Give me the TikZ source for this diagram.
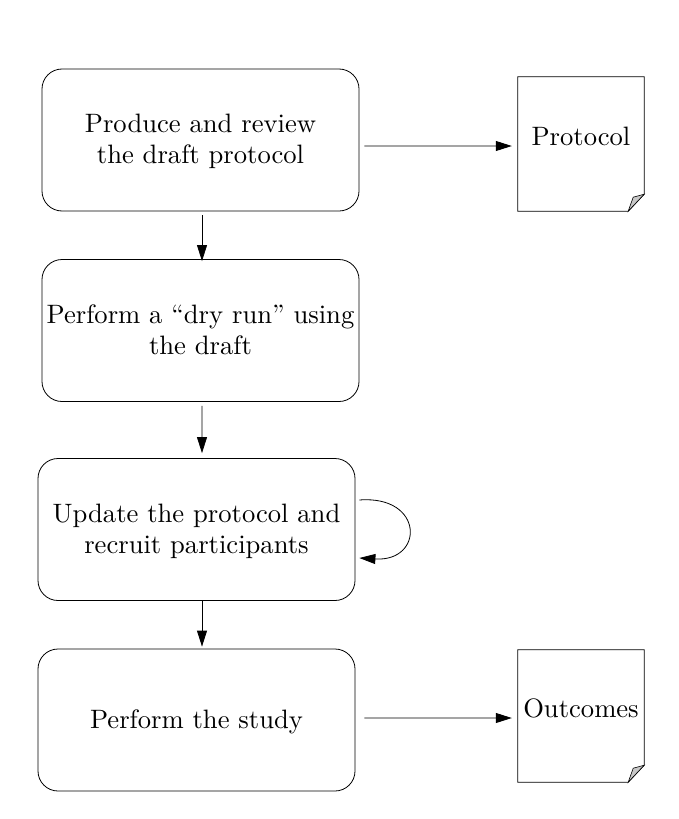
\documentclass[tikz,border=0pt]{standalone}
\usepackage{graphicx}
\usetikzlibrary{arrows.meta,calc}
\newcommand{\bigtext}[1]{\vbox{\kern4bp\hbox{\scalebox{2.671}{\fontsize{10}{11.6}\selectfont\begin{tabular}{@{}c@{}}#1\end{tabular}}}}}
\begin{document}
\begin{tikzpicture}[x=1bp,y=-1bp,
  stepbox/.style={draw,rounded corners=20bp,minimum width=317bp,minimum height=142bp,align=center,line width=0.8bp,inner sep=0pt},
  docbox/.style={minimum width=126bp,inner sep=0pt},
  flow/.style={-{Triangle[length=16bp,width=10bp]},line width=0.8bp},
  foldfill/.style={fill=black!22,draw,line width=0.6bp}]
\useasboundingbox (0,0) rectangle (679,819);
\node[stepbox] (b1) at (200.5,140) {\bigtext{Produce and review\\the draft protocol}};
\node[stepbox] (b2) at (200.5,330.5) {\bigtext{Perform a ``dry run'' using\\the draft}};
\node[stepbox] (b3) at (196.5,529.5) {\bigtext{Update the protocol and\\recruit participants}};
\node[stepbox] (b4) at (196.5,720) {\bigtext{Perform the study}};
\node[docbox,minimum height=134bp,label={[yshift=7bp]center:\bigtext{Protocol}}] (d1) at (581,144) {};
\node[docbox,minimum height=132bp,label={[yshift=7bp]center:\bigtext{Outcomes}}] (d2) at (581,716) {};
\foreach \d in {d1,d2}{
  \draw[line width=0.8bp] (\d.north west) -- (\d.north east) -- ($(\d.south east)+(0,-17)$) -- ($(\d.south east)+(-16,0)$) -- (\d.south west) -- cycle;
  \draw[foldfill] ($(\d.south east)+(-16,0)$) -- ($(\d.south east)+(-11,-14)$) -- ($(\d.south east)+(0,-17)$) -- cycle;
}
\draw[flow] ([xshift=5bp,yshift=-6bp]b1.east) -- ([xshift=-6bp,yshift=-2bp]d1.west);
\draw[flow] ([xshift=1.5bp,yshift=-4bp]b1.south) -- ([xshift=1.5bp,yshift=-2bp]b2.north);
\draw[flow] ([xshift=1.5bp,yshift=-4bp]b2.south) -- ([xshift=5.5bp,yshift=5bp]b3.north);
\draw[flow] ([xshift=5.5bp]b3.south) -- ([xshift=5.5bp,yshift=2bp]b4.north);
\draw[flow] ([xshift=9bp,yshift=2bp]b4.east) -- ([xshift=-6bp,yshift=-2bp]d2.west);
\draw[flow] ([xshift=4bp,yshift=29.5bp]b3.east) .. controls +(65,-5) and +(65,4) .. ([xshift=4bp,yshift=-28.5bp]b3.east);
\end{tikzpicture}
\end{document}
